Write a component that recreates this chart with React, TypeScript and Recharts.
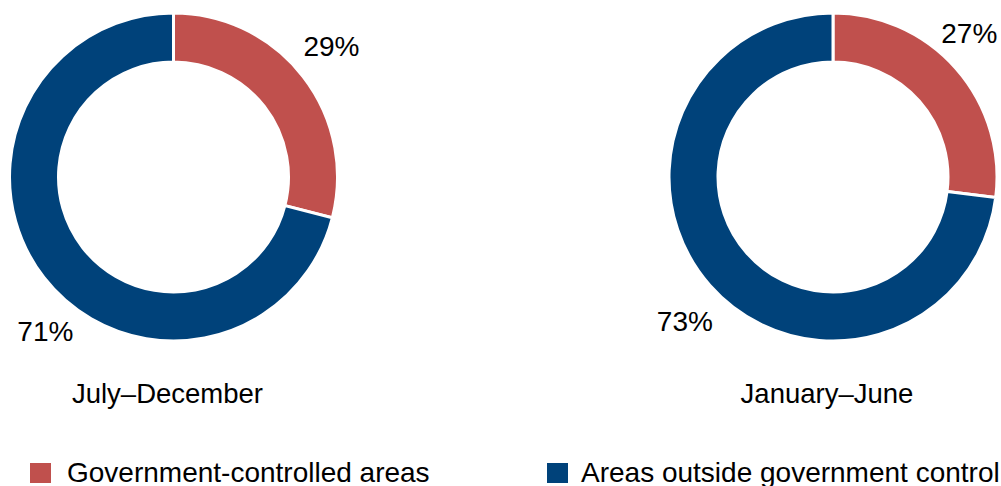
import React from "react";
import { PieChart, Pie, Cell, Label, Legend } from "recharts";

// values, in percent
const categories = ["Government-controlled areas", "Areas outside government control"];
const periods = ["July–December", "January–June"];
const julyDecember = [29, 71];
const januaryJune = [27, 73];

const COLORS = ["#C0504D", "#00427A"];
const FONT = "'Liberation Sans', Arial, Helvetica, sans-serif";

// label placement: angle nudge (deg) and distance from the centre, per slice
const labelNudge = [
  [1.8, 12.6],
  [5.1, 2.9],
];
const labelDist = [
  [205, 201],
  [198, 207],
];

const pies = [
  { key: "jd", title: periods[0], values: julyDecember, cx: 173.5 },
  { key: "jj", title: periods[1], values: januaryJune, cx: 833 },
];

// legend item positions
const legendLeft = [30, 547];
const legendGap = [16, 13];

const RAD = Math.PI / 180;

export default function App() {
  return (
    <div style={{ position: "absolute", left: 0, top: 0, width: 1001, height: 486, background: "#fff" }}>
      <PieChart width={1001} height={486} margin={{ top: 0, right: 0, bottom: 0, left: 0 }}>
        {pies.map((p, pi) => {
          const data = p.values.map((v, i) => ({ name: categories[i], value: v }));
          return (
            <Pie
              key={p.key}
              data={data}
              dataKey="value"
              cx={p.cx}
              cy={177}
              innerRadius={115}
              outerRadius={164}
              startAngle={90}
              endAngle={-270}
              stroke="#ffffff"
              strokeWidth={3}
              labelLine={false}
              isAnimationActive={false}
              label={(props: any) => {
                const { cx, cy, midAngle, index, value } = props;
                const a = (midAngle + labelNudge[pi][index]) * RAD;
                const r = labelDist[pi][index];
                const x = cx + r * Math.cos(a);
                const y = cy - r * Math.sin(a);
                return (
                  <text
                    x={x}
                    y={y}
                    textAnchor="middle"
                    dominantBaseline="central"
                    fill="#000"
                    fontSize={28}
                    fontFamily={FONT}
                  >
                    {value}%
                  </text>
                );
              }}
            >
              {data.map((d, i) => (
                <Cell key={`cell-${i}`} fill={COLORS[i]} />
              ))}
              <Label
                content={(lp: any) => {
                  const vb = lp.viewBox || {};
                  return (
                    <text
                      x={(vb.cx ?? p.cx) - 6}
                      y={(vb.cy ?? 177) + 226}
                      textAnchor="middle"
                      fill="#000"
                      fontSize={27.5}
                      fontFamily={FONT}
                    >
                      {p.title}
                    </text>
                  );
                }}
              />
            </Pie>
          );
        })}
        <Legend
          wrapperStyle={{ position: "absolute", left: 0, top: 458, width: 1001, height: 28 }}
          content={() => (
            <div style={{ position: "relative", width: 1001, height: 28, fontFamily: FONT, fontSize: 28 }}>
              {categories.map((c, i) => (
                <div
                  key={c}
                  style={{
                    position: "absolute",
                    left: legendLeft[i],
                    top: 5,
                    display: "flex",
                    alignItems: "center",
                    whiteSpace: "nowrap",
                  }}
                >
                  <span style={{ display: "inline-block", width: 21, height: 20, background: COLORS[i], marginRight: legendGap[i] }} />
                  <span style={{ color: "#000", lineHeight: "20px", position: "relative", top: 0 }}>{c}</span>
                </div>
              ))}
            </div>
          )}
        />
      </PieChart>
    </div>
  );
}
